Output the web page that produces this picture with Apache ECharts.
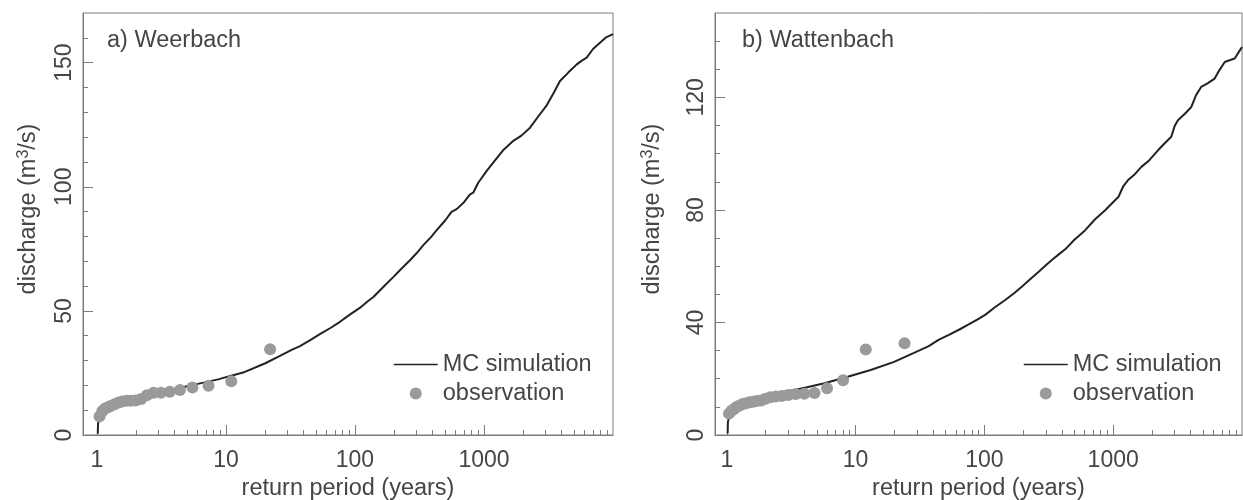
<!DOCTYPE html>
<html>
<head>
<meta charset="utf-8">
<script src="https://cdn.jsdelivr.net/npm/echarts@6/dist/echarts.min.js"></script>
<style>
  html, body { margin: 0; padding: 0; background: #ffffff; }
  #chart { width: 1243px; height: 500px; }
</style>
</head>
<body>
<div id="chart"></div>
<script>
// ---------- data ----------
const panelTitles = ['a) Weerbach', 'b) Wattenbach'];
const seriesNames = ['MC simulation', 'observation'];
const xAxisName = 'return period (years)';

// return-period tick values (log axis)
const majorTicksX = [1, 10, 100, 1000];
const minorTicksX = [2, 3, 4, 5, 6, 7, 8, 9, 20, 30, 40, 50, 60, 70, 80, 90,
  200, 300, 400, 500, 600, 700, 800, 900, 2000, 3000, 4000, 5000, 6000, 7000, 8000, 9000];

// discharge ticks
const weerbachYMajor = [0, 50, 100, 150];
const weerbachYMinor = [10, 20, 30, 40, 60, 70, 80, 90, 110, 120, 130, 140, 160];
const wattenbachYMajor = [0, 40, 80, 120];
const wattenbachYMinor = [10, 20, 30, 50, 60, 70, 90, 100, 110, 130, 140];

// a) Weerbach: Monte Carlo simulated flood frequency curve
const weerbachSimT = [1.015, 1.02, 1.04, 1.08, 1.15, 1.25, 1.4, 1.6, 1.8, 2.0,
  2.5, 3.0, 3.7, 4.8, 6.3, 8.7, 10, 14, 20, 26,
  32, 37.5, 45, 53.5, 65, 76.5, 90, 109, 125, 139,
  165, 198, 230, 267, 300, 340, 390, 430, 500, 560,
  614, 700, 780, 826, 900, 1050, 1200, 1400, 1688, 1950,
  2275, 2650, 3063, 3450, 3882, 4500, 5236, 5700, 6255, 7000,
  7925, 8900, 10000];
const weerbachSimQ = [0.5, 4.5, 6.8, 8.3, 9.8, 11.0, 12.3, 13.4, 14.2, 14.8,
  16.0, 16.9, 17.8, 19.4, 20.8, 22.4, 23.3, 25.4, 28.8, 31.8,
  34.2, 35.8, 38.2, 40.6, 43.2, 45.6, 48.3, 51.2, 53.8, 55.6,
  59.5, 63.6, 67.1, 70.4, 73.2, 76.6, 79.8, 82.5, 86.4, 89.9,
  91.0, 93.8, 96.9, 97.6, 101.5, 106.4, 110.2, 114.6, 118.5, 120.6,
  123.8, 128.5, 132.8, 137.6, 142.6, 146.0, 149.3, 150.7, 152.0, 155.5,
  158.0, 160.3, 161.5];
// a) Weerbach: observed annual maxima
const weerbachObsT = [22, 11, 7.33, 5.5, 4.4, 3.67, 3.14, 2.75, 2.44, 2.2, 2.0,
  1.83, 1.69, 1.57, 1.47, 1.375, 1.29, 1.22, 1.16, 1.1, 1.048];
const weerbachObsQ = [34.5, 21.7, 19.8, 19.1, 18.1, 17.4, 17.0, 17.0, 16.0, 14.5, 13.9,
  13.8, 13.8, 13.5, 13.1, 12.4, 11.8, 11.2, 10.7, 9.6, 7.5];

// b) Wattenbach: Monte Carlo simulated flood frequency curve
const wattenbachSimT = [1.015, 1.02, 1.04, 1.08, 1.15, 1.25, 1.4, 1.6, 1.8, 2.0,
  2.5, 3.36, 4.2, 5.73, 8.68, 13.1, 19.9, 28.4, 37, 44,
  53, 64, 75.5, 88, 102, 120, 145, 170, 195, 230,
  264, 300, 334, 380, 424, 500, 607, 720, 866, 980,
  1100, 1200, 1304, 1450, 1655, 1900, 2227, 2500, 2823, 3000,
  3182, 3600, 4042, 4400, 4818, 5400, 6132, 6700, 7345, 8000,
  8780, 9400, 10000];
const wattenbachSimQ = [0.5, 4.5, 6.2, 7.5, 9.0, 10.4, 11.7, 12.8, 13.6, 14.2,
  15.0, 16.0, 17.0, 18.4, 20.7, 23.1, 26.0, 29.2, 31.6, 33.8,
  35.6, 37.5, 39.3, 41.0, 42.8, 45.3, 48.0, 50.4, 52.7, 55.6,
  58.0, 60.3, 62.2, 64.3, 66.0, 69.4, 72.8, 76.6, 79.9, 82.4,
  84.7, 88.5, 90.6, 92.4, 95.3, 97.6, 101.2, 103.6, 106.0, 109.8,
  111.9, 114.2, 116.6, 120.8, 123.7, 125.0, 126.7, 129.8, 132.6, 133.2,
  133.8, 136.0, 137.9];
// b) Wattenbach: observed annual maxima
const wattenbachObsT = [24, 12, 8, 6, 4.8, 4, 3.43, 3, 2.67, 2.4, 2.18, 2,
  1.85, 1.71, 1.6, 1.5, 1.41, 1.33, 1.26, 1.2, 1.14, 1.09, 1.04];
const wattenbachObsQ = [32.6, 30.4, 19.5, 16.6, 14.9, 14.7, 14.6, 14.2, 13.9, 13.7, 13.4, 12.9,
  12.3, 12.1, 11.8, 11.6, 11.3, 11.0, 10.5, 10.0, 9.2, 8.6, 7.6];

// ---------- styling ----------
const FONT = "'Liberation Sans', Arial, Helvetica, sans-serif";
const TEXT = '#454545';
const AXIS = '#7c7c7c';
const LINE = '#222222';
const DOT = '#9a9a9a';

const pairs = (xs, ys) => xs.map((x, i) => [x, ys[i]]);

const panels = [
  { grid: { left: 83, right: 630, top: 13, bottom: 65 }, xMin: 0.78, yMax: 170,
    yMajor: weerbachYMajor, yMinor: weerbachYMinor, yNameGap: 41,
    sim: pairs(weerbachSimT, weerbachSimQ), obs: pairs(weerbachObsT, weerbachObsQ),
    legendLeft: 393, titleLeft: 107 },
  { grid: { left: 715, right: 1, top: 13, bottom: 65 }, xMin: 0.81, yMax: 150,
    yMajor: wattenbachYMajor, yMinor: wattenbachYMinor, yNameGap: 49,
    sim: pairs(wattenbachSimT, wattenbachSimQ), obs: pairs(wattenbachObsT, wattenbachObsQ),
    legendLeft: 1023, titleLeft: 742 }
];

const grid = [], xAxis = [], yAxis = [], series = [], legend = [], title = [];

panels.forEach((p, i) => {
  grid.push(Object.assign({ show: true, borderColor: AXIS, borderWidth: 1,
    backgroundColor: 'transparent', containLabel: false, outerBoundsMode: 'none' }, p.grid));

  // major return-period axis with labels
  xAxis.push({
    type: 'log', gridIndex: i, min: p.xMin, max: 10000, position: 'bottom',
    name: xAxisName, nameLocation: 'middle', nameGap: 42,
    nameTextStyle: { fontFamily: FONT, fontSize: 23.5, color: TEXT },
    axisLine: { show: true, lineStyle: { color: AXIS, width: 1 } },
    axisTick: { show: true, inside: true, length: 10, customValues: majorTicksX,
      lineStyle: { color: AXIS, width: 1 } },
    axisLabel: { show: true, customValues: majorTicksX, margin: 14,
      fontFamily: FONT, fontSize: 23, color: TEXT, formatter: v => String(v) },
    splitLine: { show: false }, minorTick: { show: false }
  });
  // minor return-period ticks
  xAxis.push({
    type: 'log', gridIndex: i, min: p.xMin, max: 10000, position: 'bottom',
    axisLine: { show: false },
    axisTick: { show: true, inside: true, length: 5, customValues: minorTicksX,
      lineStyle: { color: AXIS, width: 1 } },
    axisLabel: { show: false }, splitLine: { show: false }
  });

  // major discharge axis with labels
  yAxis.push({
    type: 'value', gridIndex: i, min: 0, max: p.yMax, position: 'left',
    name: 'discharge (m{sup|3}/s)', nameLocation: 'middle', nameGap: p.yNameGap,
    nameTextStyle: { fontFamily: FONT, fontSize: 23.5, color: TEXT, lineHeight: 26,
      padding: [0, 0, 0, 30],
      rich: { sup: { fontFamily: FONT, fontSize: 16, color: TEXT, verticalAlign: 'top',
        lineHeight: 16, padding: [0, 0, 8, 0] } } },
    axisLine: { show: true, lineStyle: { color: AXIS, width: 1 } },
    axisTick: { show: true, inside: true, length: 10, customValues: p.yMajor,
      lineStyle: { color: AXIS, width: 1 } },
    axisLabel: { show: true, customValues: p.yMajor, rotate: 90, margin: 7,
      fontFamily: FONT, fontSize: 23, color: TEXT },
    splitLine: { show: false }
  });
  // minor discharge ticks
  yAxis.push({
    type: 'value', gridIndex: i, min: 0, max: p.yMax, position: 'left',
    axisLine: { show: false },
    axisTick: { show: true, inside: true, length: 5, customValues: p.yMinor,
      lineStyle: { color: AXIS, width: 1 } },
    axisLabel: { show: false }, splitLine: { show: false }
  });

  series.push({
    name: seriesNames[0], type: 'line', xAxisIndex: 2 * i, yAxisIndex: 2 * i,
    data: p.sim, symbol: 'none', showSymbol: false, smooth: false,
    lineStyle: { color: LINE, width: 2 }, itemStyle: { color: LINE },
    animation: false, z: 2
  });
  series.push({
    name: seriesNames[1], type: 'scatter', xAxisIndex: 2 * i, yAxisIndex: 2 * i,
    data: p.obs, symbol: 'circle', symbolSize: 12,
    itemStyle: { color: DOT, opacity: 1 }, animation: false, z: 3
  });

  legend.push({
    orient: 'vertical', left: p.legendLeft, top: 351, padding: 0,
    itemWidth: 44, itemHeight: 12, itemGap: 2, selectedMode: false,
    data: [
      { name: seriesNames[0], itemStyle: { opacity: 0 }, lineStyle: { color: LINE, width: 1.5 } },
      { name: seriesNames[1] }
    ],
    textStyle: { fontFamily: FONT, fontSize: 23.5, color: TEXT, lineHeight: 27 }
  });

  title.push({
    text: panelTitles[i], left: p.titleLeft, top: 29, padding: 0,
    textStyle: { fontFamily: FONT, fontSize: 23.5, fontWeight: 'normal', color: TEXT }
  });
});

const chart = echarts.init(document.getElementById('chart'), null, { renderer: 'canvas' });
chart.setOption({
  backgroundColor: '#ffffff',
  animation: false,
  title, grid, xAxis, yAxis, legend, series
});
</script>
</body>
</html>
